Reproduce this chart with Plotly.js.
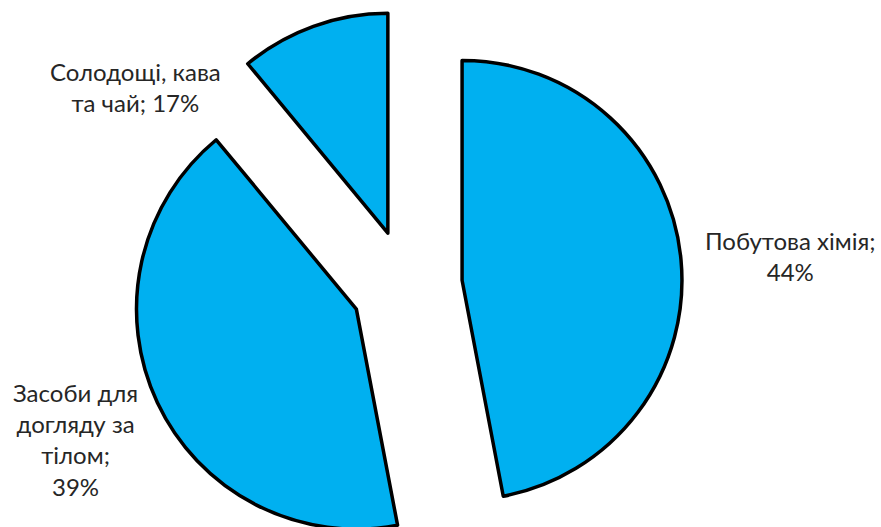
<!DOCTYPE html>
<html>
<head>
<meta charset="utf-8">
<script src="https://cdn.plot.ly/plotly-3.0.1.min.js"></script>
<style>
html,body{margin:0;padding:0;overflow:hidden;background:#fff;}
#chart{width:881px;}
</style>
</head>
<body>
<div id="chart"></div>
<script>
// Categories in drawing order (clockwise from 12 o'clock)
const categories = ["Побутова хімія", "Засоби для догляду за тілом", "Солодощі, кава та чай"];
// Slice sizes as drawn in the picture (angles measured)
const sliceValues = [47, 42, 11];
// Percent labels as printed on the chart
const labelPercents = [44, 39, 17];
// Label texts (line breaks as in the picture)
const labelTexts = [
  "Побутова хімія;<br>" + labelPercents[0] + "%",
  "Засоби для<br>догляду за<br>тілом;<br>" + labelPercents[1] + "%",
  "Солодощі, кава<br>та чай; " + labelPercents[2] + "%"
];

const W = 881, H = 561, T = 10;
// label centres in pixels
const labelPos = [[790, 256], [75, 439], [135, 87]];
const toPaper = (p) => ({x: p[0] / W, y: (H - p[1]) / (H - T)});

const annotations = labelTexts.map((t, i) => {
  const p = toPaper(labelPos[i]);
  return {
    text: t, x: p.x, y: p.y, xref: "paper", yref: "paper",
    xanchor: "center", yanchor: "middle", showarrow: false, align: "center",
    font: {family: "Lato, 'Noto Sans', sans-serif", size: 24, color: "#262626"}
  };
});

const trace = {
  type: "pie",
  labels: categories,
  values: sliceValues,
  sort: false,
  direction: "clockwise",
  rotation: 0,
  pull: [0.253, 0.253, 0.253],
  textinfo: "none",
  hoverinfo: "label+percent",
  marker: {colors: ["#00B0F0", "#00B0F0", "#00B0F0"], line: {color: "#000000", width: 3.5}},
  domain: {x: [0, 813.4 / 881], y: [0, 1]},
  showlegend: false
};

Plotly.newPlot("chart", [trace], {
  width: W, height: H,
  margin: {l: 0, r: 0, t: T, b: 0, pad: 0},
  paper_bgcolor: "#ffffff",
  showlegend: false,
  annotations: annotations
}, {displayModeBar: false, staticPlot: true});
</script>
</body>
</html>
